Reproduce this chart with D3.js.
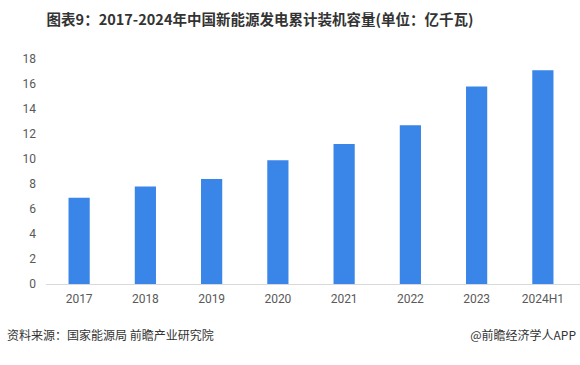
<!DOCTYPE html>
<html><head><meta charset="utf-8">
<script src="https://cdn.jsdelivr.net/npm/d3@7"></script>
<style>body{margin:0;background:#fff;} svg{display:block;}</style>
</head><body>
<svg id="c" width="580" height="365"></svg>
<script>
const categories = ["2017","2018","2019","2020","2021","2022","2023","2024H1"];
const values = [6.9, 7.8, 8.4, 9.9, 11.2, 12.7, 15.8, 17.1];
const yTicks = [0,2,4,6,8,10,12,14,16,18];
const title = "图表9：2017-2024年中国新能源发电累计装机容量(单位：亿千瓦)";
const source = "资料来源：国家能源局 前瞻产业研究院";
const credit = "@前瞻经济学人APP";

const svg = d3.select("#c");
const font = "'Noto Sans CJK SC', 'Noto Sans', sans-serif";
const x = d3.scaleBand().domain(categories).range([46, 576]).paddingInner(0.68).paddingOuter(0.34);
const y = d3.scaleLinear().domain([0, 18]).range([284, 59]);

svg.append("text").attr("x", 260).attr("y", 25).attr("text-anchor", "middle")
  .attr("font-family", font).attr("font-weight", "bold").attr("font-size", 14.5)
  .attr("fill", "#333").text(title);

const yAxis = svg.append("g").attr("transform", "translate(46,0)")
  .call(d3.axisLeft(y).tickValues(yTicks).tickSize(0).tickPadding(10));
yAxis.select(".domain").remove();
yAxis.selectAll("text").attr("font-family", "Roboto, sans-serif").attr("font-size", 12).attr("fill", "#595959");

svg.append("g").selectAll("rect").data(values).join("rect")
  .attr("x", (d,i) => x(categories[i])).attr("width", x.bandwidth())
  .attr("y", d => y(d)).attr("height", d => y(0) - y(d)).attr("fill", "#3a85e8");

const xAxis = svg.append("g").attr("transform", "translate(0,284)")
  .call(d3.axisBottom(x).tickSize(0).tickPadding(10));
xAxis.select(".domain").attr("stroke", "#d9d9d9").attr("d", "M46,0.5H580");
xAxis.selectAll("text").attr("font-family", "Roboto, sans-serif").attr("font-size", 12).attr("fill", "#595959");

svg.append("text").attr("x", 7).attr("y", 340).attr("font-family", font).attr("font-size", 12)
  .attr("fill", "#333").text(source);
svg.append("text").attr("x", 576).attr("y", 340).attr("text-anchor", "end").attr("font-family", font).attr("font-size", 12)
  .attr("fill", "#333").text(credit);
</script>
</body></html>
